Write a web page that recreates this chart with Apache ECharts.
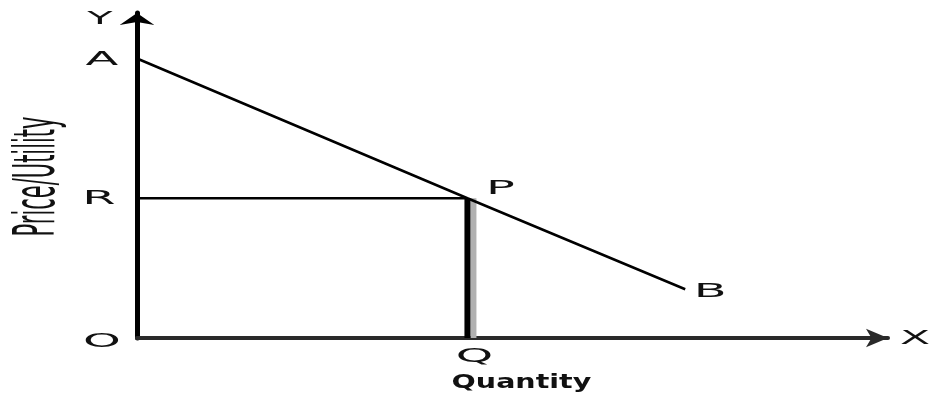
<!DOCTYPE html>
<html>
<head>
<meta charset="utf-8">
<script src="https://cdn.jsdelivr.net/npm/echarts@6/dist/echarts.min.js"></script>
<style>
    html, body { margin: 0; padding: 0; background: #fff; }
    #chart { width: 932px; height: 397px; }
</style>
</head>
<body>
<div id="chart"></div>
<script>
// demand line A -> P -> B
const curveX = [0, 4.4, 7.3]
const curveY = [8.6, 4.3, 1.5]
const curveLabels = ['A', 'P', 'B']

// y axis marks
const tickValues = [0, 4.3, 8.6]
const tickLabels = ['O', 'R', 'A']

const qLabel = 'Q'
const xName = 'Quantity'
const yName = 'Price/Utility'

const chart = echarts.init(document.getElementById('chart'), null, { renderer: 'canvas' })

const pX = curveX[1]
const pY = curveY[1]

const option = {
    animation: false,
    backgroundColor: '#fff',
    grid: { left: 137, right: 44, top: 13, bottom: 59 },
    xAxis: {
        type: 'value',
        min: 0,
        max: 10,
        axisLine: {
            onZero: false,
            symbol: ['none', 'arrow'],
            symbolSize: [14, 22],
            lineStyle: { color: '#2a2a2a', width: 4 }
        },
        axisTick: { show: false },
        axisLabel: { show: false },
        splitLine: { show: false }
    },
    yAxis: {
        type: 'value',
        min: 0,
        max: 10,
        axisLine: {
            onZero: false,
            symbol: ['none', 'arrow'],
            symbolSize: [26, 12],
            lineStyle: { color: '#000', width: 5 }
        },
        axisTick: { show: false },
        axisLabel: { show: false },
        splitLine: { show: false }
    },
    series: [
        {
            type: 'line',
            data: curveX.map((x, i) => [x, curveY[i]]),
            symbol: 'none',
            lineStyle: { color: '#000', width: 2.5 },
            z: 3
        },
        {
            type: 'line',
            data: [[0, pY], [pX, pY]],
            symbol: 'none',
            lineStyle: { color: '#000', width: 2.5 },
            z: 2
        },
        {
            type: 'line',
            data: [[pX, pY], [pX, 0]],
            symbol: 'none',
            lineStyle: {
                color: '#000',
                width: 6,
                shadowColor: '#b0b0b0',
                shadowOffsetX: 6,
                shadowBlur: 0
            },
            z: 2
        }
    ]
}

chart.setOption(option)

const px = pt => chart.convertToPixel({ gridIndex: 0 }, pt)

const textEl = (text, pos, dx, dy, opts = {}) => ({
    type: 'text',
    x: pos[0] + dx,
    y: pos[1] + dy,
    scaleX: opts.scaleX || 2.4,
    scaleY: opts.scaleY || 1,
    rotation: opts.rotation || 0,
    style: {
        text,
        fill: '#111',
        font: `${opts.weight || 'normal'} ${opts.size || 20}px "DejaVu Sans"`,
        textAlign: 'center',
        textVerticalAlign: 'middle'
    },
    z: 10
})

const elements = []

tickValues.forEach((v, i) => {
    const p = px([0, v])
    elements.push(textEl(tickLabels[i], p, i === 1 ? -38 : -35, i === 0 ? 4 : 1))
})

// Y arrow label
elements.push(textEl('Y', px([0, 10]), -37, 6, { scaleX: 2.3, size: 18 }))
// X arrow label
elements.push(textEl('X', px([10, 0]), 27, 1, { scaleX: 2.2 }))

// P and B
elements.push(textEl(curveLabels[1], px([curveX[1], curveY[1]]), 33, -9))
elements.push(textEl(curveLabels[2], px([curveX[2], curveY[2]]), 25, 3))

// Q
elements.push(textEl(qLabel, px([pX, 0]), 7, 19, { scaleX: 2.5, size: 19 }))

// axis names
const xMid = px([pX, 0])
elements.push(textEl(xName, [xMid[0], xMid[1]], 54, 45, { scaleX: 1.5, size: 19, weight: '600' }))
const yMid = px([0, 5])
elements.push(textEl(yName, [39, yMid[1] + 1], 0, 0, { scaleX: 1, scaleY: 2.7, rotation: Math.PI / 2, size: 21 }))

chart.setOption({ graphic: { elements } })
</script>
</body>
</html>
